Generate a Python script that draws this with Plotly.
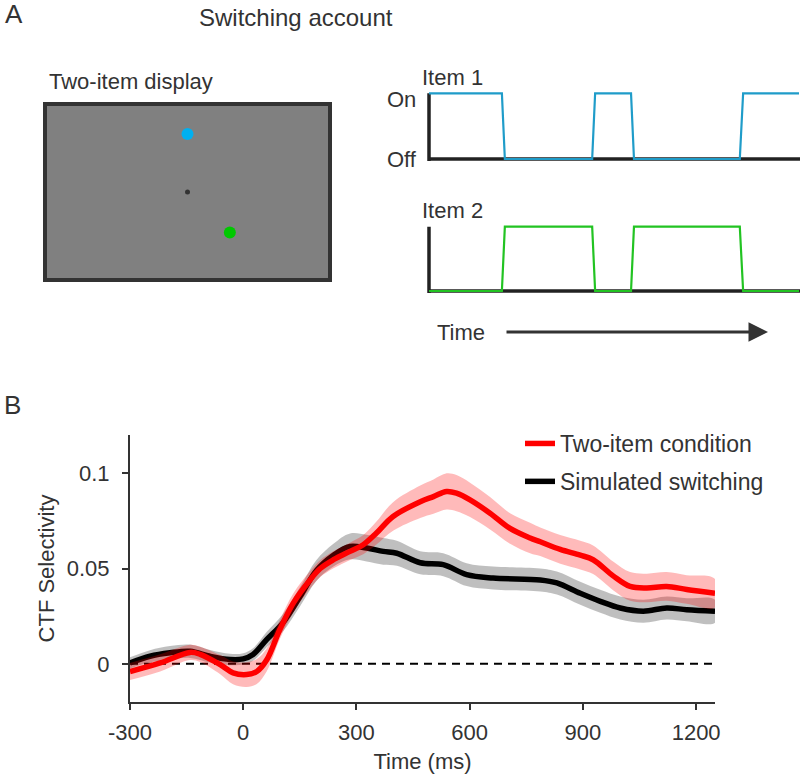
import plotly.graph_objects as go

# ---------------- data ----------------
# Panel A: on/off time courses (arbitrary time units)
item_time = [0, 19.7, 20.5, 44.1, 44.9, 54.6, 55.4, 84.0, 84.9, 100]
item1_state = [1, 1, 0, 0, 1, 1, 0, 0, 1, 1]
item2_state = [0, 0, 1, 1, 0, 0, 1, 1, 0, 0]

# Panel A: display items (units of eccentricity)
display_x = [0.0, 0.73]
display_y = [1.0, -0.70]
fixation_x = [0.0]
fixation_y = [0.0]

# Panel B: CTF selectivity time courses
red_t = [-300, -220, -141, -114, -61, -27, 9, 36, 62, 97, 133, 177, 204, 239, 283, 318,
         353, 397, 469, 504, 539, 565, 601, 654, 707, 760, 787, 840, 893, 927, 981,
         1025, 1069, 1122, 1175, 1250]
red_y = [-0.004, 0.0005, 0.006, 0.005, -0.0004, -0.0047, -0.0056, -0.004, 0.002, 0.018,
         0.032, 0.044, 0.050, 0.0546, 0.059, 0.0625, 0.0686, 0.0773, 0.085, 0.0877, 0.0904,
         0.0895, 0.086, 0.079, 0.071, 0.066, 0.064, 0.060, 0.057, 0.0546, 0.046, 0.0406,
         0.0398, 0.0406, 0.039, 0.037]
red_sem = [0.0045, 0.0045, 0.004, 0.004, 0.005, 0.006, 0.0065, 0.0065, 0.006, 0.005,
           0.005, 0.0045, 0.0045, 0.0045, 0.0045, 0.005, 0.006, 0.0075, 0.0085, 0.009,
           0.0095, 0.0095, 0.009, 0.0085, 0.008, 0.008, 0.0075, 0.0075, 0.0075, 0.0075,
           0.0075, 0.0075, 0.0075, 0.0075, 0.0075, 0.0075]

blk_t = [-300, -247, -194, -141, -88, -35, 0, 26, 62, 105, 151, 194, 239, 283, 327, 371,
         407, 469, 530, 592, 662, 787, 831, 893, 946, 999, 1060, 1122, 1175, 1250]
blk_y = [0.0005, 0.004, 0.0058, 0.0066, 0.004, 0.0023, 0.0026, 0.0049, 0.0127, 0.0215,
         0.0354, 0.049, 0.057, 0.0616, 0.0607, 0.059, 0.058, 0.053, 0.052, 0.0468, 0.045,
         0.044, 0.0424, 0.037, 0.0328, 0.0293, 0.0276, 0.0293, 0.0284, 0.0276]
blk_sem = [0.003, 0.0032, 0.0035, 0.0035, 0.0033, 0.003, 0.003, 0.0033, 0.004, 0.0045,
           0.005, 0.0055, 0.006, 0.0068, 0.007, 0.007, 0.0065, 0.006, 0.006, 0.006, 0.006,
           0.006, 0.006, 0.006, 0.006, 0.006, 0.006, 0.006, 0.006, 0.006]

x_ticks = [-300, 0, 300, 600, 900, 1200]
x_ticktext = ["-300", "0", "300", "600", "900", "1200"]
y_ticks = [0, 0.05, 0.1]
y_ticktext = ["0", "0.05", "0.1"]
legend_names = ["Two-item condition", "Simulated switching"]

# ---------------- figure ----------------
W, H = 800, 780
FONT = "Liberation Sans, Arial, Helvetica, sans-serif"
TXT = "#333333"


def px(x):
    return x / W


def py(y):
    return 1 - y / H


fig = go.Figure()


def band(t, y, s, color):
    upper = [a + b for a, b in zip(y, s)]
    lower = [a - b for a, b in zip(y, s)]
    return go.Scatter(x=list(t) + list(t)[::-1], y=upper + lower[::-1], fill="toself",
                      fillcolor=color, line=dict(width=0, shape="spline"), mode="lines",
                      hoverinfo="skip", showlegend=False, xaxis="x", yaxis="y")


fig.add_trace(band(blk_t, blk_y, blk_sem, "rgba(0,0,0,0.25)"))
fig.add_trace(go.Scatter(x=blk_t, y=blk_y, mode="lines", name=legend_names[1],
                         line=dict(color="black", width=5.5, shape="spline"),
                         legendgroup="b", legendrank=2, xaxis="x", yaxis="y"))
fig.add_trace(band(red_t, red_y, red_sem, "rgba(255,0,0,0.27)"))
fig.add_trace(go.Scatter(x=red_t, y=red_y, mode="lines", name=legend_names[0],
                         line=dict(color="#ff0000", width=5.5, shape="spline"),
                         legendgroup="a", legendrank=1, xaxis="x", yaxis="y"))

# on/off traces
fig.add_trace(go.Scatter(x=item_time, y=item1_state, mode="lines",
                         line=dict(color="#1f9cc9", width=2.2), showlegend=False,
                         xaxis="x2", yaxis="y2", hoverinfo="skip"))
fig.add_trace(go.Scatter(x=item_time, y=item2_state, mode="lines",
                         line=dict(color="#22c322", width=2.2), showlegend=False,
                         xaxis="x3", yaxis="y3", hoverinfo="skip"))

# display
fig.add_trace(go.Scatter(x=fixation_x, y=fixation_y, mode="markers",
                         marker=dict(color="#333333", size=5), showlegend=False,
                         xaxis="x4", yaxis="y4", hoverinfo="skip"))
fig.add_trace(go.Scatter(x=display_x, y=display_y, mode="markers",
                         marker=dict(color=["#00b0f0", "#00c800"], size=12), showlegend=False,
                         xaxis="x4", yaxis="y4", hoverinfo="skip"))

hidden = dict(visible=False, fixedrange=True, automargin=False)

# item axis geometry: On level at y=93.3px, Off at 159px; x from 429 to 799px
on_px, off_px = 93.3, 159.0
on2_px, off2_px = 226.7, 291.0
ypad = 0.05
unit1 = off_px - on_px
unit2 = off2_px - on2_px
tx0, tx1 = 429.0, 799.0
xpad = 1.0
xunit = (tx1 - tx0) / (item_time[-1] - item_time[0])
xr_hi = item_time[-1] + (W - tx1) / xunit
x_dom = [px(tx0 - xpad * xunit), 1.0]
x_rng = [item_time[0] - xpad, xr_hi]

fig.update_layout(
    width=W, height=H, margin=dict(l=0, r=0, t=0, b=0, pad=0, autoexpand=False),
    paper_bgcolor="white", plot_bgcolor="rgba(0,0,0,0)",
    font=dict(family=FONT, size=22, color=TXT),
    showlegend=True,
    legend=dict(x=px(520), y=py(422), xanchor="left", yanchor="top",
                bgcolor="rgba(0,0,0,0)", font=dict(size=23, color=TXT),
                tracegroupgap=5, traceorder="grouped"),
    xaxis=dict(domain=[px(130), px(715)], range=[-300, 1250], tickvals=x_ticks,
               ticktext=x_ticktext,
               ticks="outside", ticklen=6, tickwidth=2, tickcolor=TXT,
               showline=True, linewidth=2, linecolor=TXT, showgrid=False, zeroline=False,
               tickfont=dict(size=22, color=TXT), ticklabelstandoff=4, automargin=False,
               title=dict(text="Time (ms)", font=dict(size=22, color=TXT), standoff=9),
               anchor="y", fixedrange=True),
    yaxis=dict(domain=[py(702), py(435)], range=[-0.02, 0.12], tickvals=y_ticks,
               ticktext=y_ticktext, ticks="outside", ticklen=6, tickwidth=2, tickcolor=TXT,
               showline=True, linewidth=2, linecolor=TXT, showgrid=False, zeroline=False,
               tickfont=dict(size=22, color=TXT), ticklabelstandoff=8, automargin=False,
               title=dict(text="CTF Selectivity", font=dict(size=22, color=TXT), standoff=6),
               anchor="x", fixedrange=True),
    xaxis2=dict(domain=x_dom, range=x_rng, anchor="y2", **hidden),
    yaxis2=dict(domain=[py(off_px + ypad * unit1), py(on_px - ypad * unit1)],
                range=[-ypad, 1 + ypad], anchor="x2", **hidden),
    xaxis3=dict(domain=x_dom, range=x_rng, anchor="y3", **hidden),
    yaxis3=dict(domain=[py(off2_px + ypad * unit2), py(on2_px - ypad * unit2)],
                range=[-ypad, 1 + ypad], anchor="x3", **hidden),
    xaxis4=dict(domain=[px(45), px(330)], range=[-2.457, 2.457], anchor="y4", **hidden),
    yaxis4=dict(domain=[py(280), py(104)], range=[-1.517, 1.517], anchor="x4", **hidden),
)

shapes = []
# display rectangle
shapes.append(dict(type="rect", xref="x4 domain", yref="y4 domain", x0=0, x1=1, y0=0, y1=1,
                   fillcolor="#808080", line=dict(color="#333333", width=4), layer="below"))
# on/off axes
for xr, yr in (("x2", "y2"), ("x3", "y3")):
    shapes.append(dict(type="line", xref=xr, yref=yr, x0=item_time[0], x1=xr_hi,
                       y0=0, y1=0, line=dict(color="#222222", width=3.5), layer="below"))
    shapes.append(dict(type="line", xref=xr, yref=yr, x0=item_time[0], x1=item_time[0],
                       y0=-0.03, y1=1.0, line=dict(color="#222222", width=3.5), layer="below"))
# dashed zero line
shapes.append(dict(type="line", xref="x", yref="y", x0=x_ticks[0], x1=red_t[-1], y0=0, y1=0,
                   line=dict(color="black", width=2, dash="8px,6px"), layer="below"))
fig.update_layout(shapes=shapes)


def label(text, x, y, size=22, xanchor="left", yanchor="middle"):
    fig.add_annotation(text=text, x=px(x), y=py(y), xref="paper", yref="paper",
                       xanchor=xanchor, yanchor=yanchor, showarrow=False,
                       font=dict(size=size, color=TXT, family=FONT))


label("A", 3, 14, size=26)
label("Switching account", 197, 17, size=24)
label("Two-item display", 47, 82)
label("Item 1", 420, 78)
label("On", 418, 99, xanchor="right")
label("Off", 419, 160, xanchor="right")
label("Item 2", 420, 211)
label("Time", 435, 332)
label("B", 2, 405, size=26)

# time arrow
fig.add_annotation(x=px(768), y=py(332), xref="paper", yref="paper", ax=-263, ay=0,
                   text="", showarrow=True, arrowhead=2, arrowsize=1.3, arrowwidth=3,
                   arrowcolor="#333333")

fig.write_html("out.html", config={"displayModeBar": False},
               post_script="document.body.style.margin='0px';")
